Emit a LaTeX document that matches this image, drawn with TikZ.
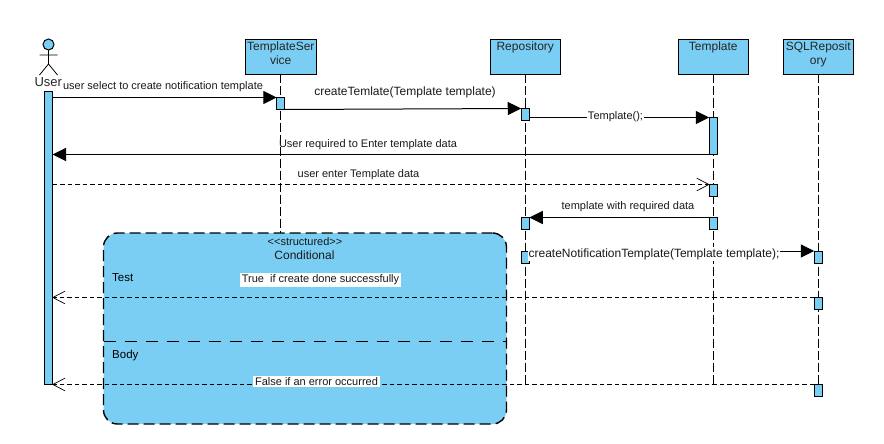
\documentclass[tikz,border=0pt]{standalone}
\usepackage{fontspec}
\setmainfont{Liberation Sans}
\usetikzlibrary{arrows.meta,calc}
\definecolor{lifeblue}{HTML}{7ACEF4}
\tikzset{
  head/.style={draw=black,fill=lifeblue,line width=1pt,minimum width=70.5pt,minimum height=35pt,inner sep=0pt,outer sep=0pt,anchor=north west},
  headtxt/.style={font=\fontsize{12}{14.2}\selectfont,align=center,text=black!85,anchor=north,inner sep=0pt},
  act/.style={draw=black,fill=lifeblue,line width=1pt,minimum width=8pt,inner sep=0pt,outer sep=0pt,anchor=north},
  lifeline/.style={line width=1pt,dash pattern=on 9pt off 3pt},
  syncmsg/.style={line width=1pt,-{Triangle[length=13.5pt,width=13pt]}},
  retmsg/.style={line width=0.9pt,dash pattern=on 4.5pt off 3pt,-{Straight Barb[length=12pt,width=12.5pt,line width=0.7pt,round=false]}},
  lbl/.style={font=\fontsize{11}{13}\selectfont,inner sep=0pt,text=black!90},
  lblw/.style={lbl,fill=white,inner xsep=2pt,inner ysep=1.5pt},
}
\begin{document}
\begin{tikzpicture}[x=1pt,y=-1pt]
\useasboundingbox (0,0) rectangle (884,444);
% heads
\node[head] (hts) at (245.5,39.5) {};
\node[head] (hr) at (490,39.5) {};
\node[head] (htp) at (678,39.5) {};
\node[head] (hs) at (783,39.5) {};
\node[headtxt] (hts1) at (280.75,41.5) {TemplateSer\\vice};
\node[headtxt] (hr1) at (525.25,41.5) {Repository};
\node[headtxt] (htp1) at (713.25,41.5) {Template};
\node[headtxt] (hs1) at (818.25,41.5) {SQLReposit\\ory};
% lifeline ends
\coordinate (lts) at (hts.south |- 0,234);
\coordinate (lr) at (hr.south |- 0,384.5);
\coordinate (ltp) at (htp.south |- 0,384.5);
\coordinate (ls) at (hs.south |- 0,384.5);
\draw[lifeline] (hts.south) -- (lts);
\draw[lifeline] (hr.south) -- (lr);
\draw[lifeline] (htp.south) -- (ltp);
\draw[lifeline] (hs.south) -- (ls);
% actor
\node[circle,draw=black,fill=lifeblue,line width=1pt,minimum size=11pt,inner sep=0pt,outer sep=0pt] (uh) at (48.5,44.5) {};
\coordinate (uhip) at (48.5,64);
\coordinate (ularm) at (39.5,55);
\coordinate (urarm) at (57.5,55);
\coordinate (ullg) at (39.5,75);
\coordinate (urlg) at (57.5,75);
\draw[line width=0.8pt] (uh.south) -- (uhip) (ularm) -- (urarm) (ullg) -- (uhip) -- (urlg);
\node[font=\fontsize{13}{15}\selectfont,inner sep=0pt,text=black!85] (ulab) at (48.3,82) {User};
% frame
\node[draw=black,fill=lifeblue,line width=1.4pt,dash pattern=on 11pt off 5pt,rounded corners=14pt,minimum width=403pt,minimum height=191pt,inner sep=0pt,outer sep=0pt,anchor=north west] (frame) at (103.5,233) {};
\coordinate (divl) at (frame.west |- 0,341);
\coordinate (divr) at (frame.east |- 0,341);
\draw[line width=1pt,dash pattern=on 12pt off 9pt] (divl) -- (divr);
\node[font=\fontsize{11}{13}\selectfont,inner sep=0pt,text=black!90] (ftitle) at (305,241.5) {{<}{<}structured{>}{>}};
\node[font=\fontsize{12}{14}\selectfont,inner sep=0pt,text=black!90] (ftitle2) at (304.5,255) {Conditional};
\node[font=\fontsize{11.5}{14}\selectfont,inner sep=0pt,anchor=west] (ftest) at (112,278) {Test};
\node[font=\fontsize{11.5}{14}\selectfont,inner sep=0pt,anchor=west] (fbody) at (112,355.5) {Body};
% activations
\node[act,minimum height=292pt] (ua) at (48.5,92) {};
\node[act,minimum height=12pt] (t1) at (280.75,97.5) {};
\node[act,minimum height=12pt] (r1) at (525.25,108.5) {};
\node[act,minimum height=37pt] (tp1) at (713.25,117.5) {};
\node[act,minimum height=12pt] (tp2) at (713.25,184.5) {};
\node[act,minimum height=12pt] (tp3) at (713.25,217.5) {};
\node[act,minimum height=12pt] (r2) at (525.25,217.5) {};
\node[act,minimum height=12pt] (r3) at (525.25,251) {};
\node[act,minimum height=12pt] (s1) at (818.25,251) {};
\node[act,minimum height=12pt] (s2) at (818.25,297.5) {};
\node[act,minimum height=12pt] (s3) at (818.25,384.5) {};
% messages
\draw[syncmsg] (ua.east |- t1.north) -- (t1.north west);
\draw[syncmsg] (t1.south east) -- (r1.north west);
\draw[syncmsg] (r1.east |- tp1.north) -- (tp1.north west);
\draw[syncmsg] (tp1.south west) -- (ua.east |- tp1.south);
\draw[retmsg] (ua.east |- tp2.north) -- (tp2.north west);
\draw[syncmsg] (tp3.north west) -- (r2.north east);
\draw[syncmsg] (r3.north east) -- (s1.north west);
\draw[retmsg] (s2.north west) -- (ua.east |- s2.north);
\draw[retmsg] (s3.north west) -- (ua.east |- s3.north);
% labels
\node[lbl] (m1) at (163,86.5) {user select to create notification template};
\node[lbl,font=\fontsize{12}{14}\selectfont] (m2) at (405,92) {createTemlate(Template template)};
\node[lblw,inner xsep=0.5pt] (m3) at (615.5,117) {Template();};
\node[lbl] (m4) at (368,144.5) {User required to Enter template data};
\node[lbl] (m5) at (358.5,175) {user enter Template data};
\node[lbl] (m6) at (628,207) {template with required data};
\node[lblw,font=\fontsize{12}{14}\selectfont,inner xsep=0.5pt] (m7) at (654,254) {createNotificationTemplate(Template template);};
\node[lblw] (m8) at (320.5,280) {True\ \ if create done successfully};
\node[lblw] (m9) at (316.5,381.5) {False if an error occurred};
\end{tikzpicture}
\end{document}
